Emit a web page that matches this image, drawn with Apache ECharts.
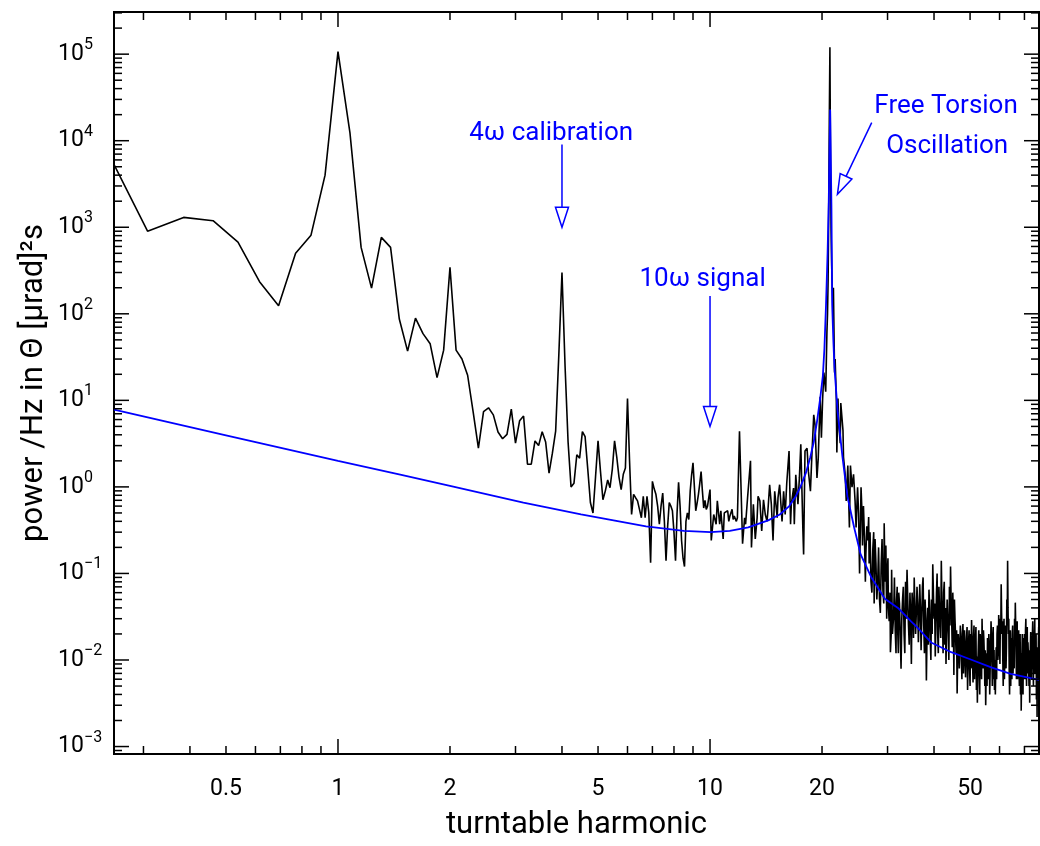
<!DOCTYPE html>
<html>
<head>
<meta charset="utf-8">
<script src="https://cdn.jsdelivr.net/npm/echarts@6/dist/echarts.min.js"></script>
<style>
  html, body { margin: 0; padding: 0; background: #fff; }
  #chart { width: 1040px; height: 846px; }
</style>
</head>
<body>
<div id="chart"></div>
<script>
// measured spectrum, one bin = 1/13 turntable harmonic
const lowFirstBin = 3
const lowPower = [
  10500, 900, 1300, 1190, 675, 235, 124, 500, 810, 4000,
  107000, 12300, 585, 198, 764, 585, 87, 37, 89, 59,
  45, 18.3, 38, 345, 38, 30, 19.5, 7.4, 2.8, 7.4,
  8.2, 6.8, 4.3, 3.6, 4.05, 7.9, 3.2, 5.8, 6.6, 1.83,
  1.83, 3.4, 3.0, 4.35, 3.3, 1.44, 2.45, 4.4, 34, 300,
  25, 3.3, 1.0, 1.1, 2.35, 2.15, 4.35, 3.8, 1.6, 0.66,
  0.5, 1.3, 3.4, 1.5, 0.71, 0.9, 1.2, 0.98, 1.6, 3.4,
  2.2, 1.3, 0.93, 1.4, 1.65, 10.5, 2.0, 0.48, 0.82, 0.75,
  0.69, 0.55, 0.44, 0.78, 0.44, 0.78, 0.5, 0.133, 1.16, 0.95,
  0.82, 0.6, 0.37, 0.6, 0.85, 0.4, 0.14, 0.35, 0.66, 0.6,
  0.53, 0.3, 0.14, 0.5, 1.13, 0.6, 0.24, 0.15, 0.12, 0.4,
  0.5, 0.42, 0.9, 1.38, 1.9, 1.0, 0.53, 0.65, 0.82, 1.1,
  1.5, 0.9, 0.57, 0.7, 0.55, 0.6, 0.75, 0.93
]
const midBins = [
  131, 133, 135, 136, 138, 139, 141, 142, 143, 145, 146, 147, 149, 150, 151, 153, 154, 156, 159, 161,
  162, 164, 167, 168, 170, 172, 174, 175, 177, 179, 181, 183, 185, 186, 188, 190, 192, 194, 197, 198,
  200, 203, 205, 207, 209, 212, 214, 215, 218, 219, 221, 224, 226, 228, 231, 232, 234, 237, 239, 242,
  244, 247, 249, 252, 254, 257, 259, 261, 263, 266, 268, 269, 270, 271, 272, 273, 274, 275, 276, 277,
  278, 279, 280, 281, 282, 284, 285, 287, 288, 291, 292, 296, 297, 300, 302, 305, 308, 310, 313, 316,
  319, 321, 324, 326, 328, 330, 331, 333, 334, 336, 338, 340, 341, 343, 345, 347, 348, 350, 352, 354,
  356, 358, 359, 361, 363, 365, 367, 369, 371, 373, 375, 377, 379, 381, 382, 384, 386, 388, 389, 391,
  392, 394, 396, 397, 399, 400, 402, 405, 407, 409, 411, 412, 414, 415, 417, 418, 420
]
const midPower = [
  0.24, 0.48, 0.37, 0.69, 0.37, 0.53, 0.25, 0.5, 0.48, 0.53, 0.4, 0.46, 0.55, 0.42, 0.46, 0.4, 0.44, 4.4, 0.22, 0.44,
  0.37, 0.75, 2.0, 0.2, 0.63, 0.25, 0.44, 0.78, 0.69, 0.31, 0.71, 0.48, 0.4, 0.53, 1.06, 0.63, 0.24, 0.89, 0.44, 0.75,
  1.06, 0.4, 0.89, 0.48, 1.1, 2.6, 0.37, 0.63, 0.97, 0.37, 1.38, 0.63, 1.27, 3.1, 0.31, 0.166, 2.6, 2.8, 1.5, 0.89,
  2.15, 6.8, 5.2, 1.27, 2.15, 11, 3.7, 10.5, 21, 12.6, 61, 100, 250, 1500, 18000, 120000, 6000, 900, 360, 200,
  125, 200, 60, 21, 30, 10.5, 2.5, 10.5, 5.8, 3.2, 9.3, 4.5, 2.2, 1.4, 0.69, 1.77, 0.34, 1.77, 0.99, 1.4,
  0.69, 0.34, 0.99, 0.5, 0.1, 0.45, 0.99, 0.5, 0.21, 0.6, 0.27, 0.08, 0.166, 0.35, 0.24, 0.45, 0.13, 0.3, 0.081, 0.06,
  0.19, 0.3, 0.045, 0.25, 0.13, 0.05, 0.081, 0.2, 0.051, 0.035, 0.13, 0.25, 0.064, 0.045, 0.38, 0.08, 0.21, 0.03, 0.092, 0.15,
  0.041, 0.028, 0.06, 0.0123, 0.02, 0.11, 0.02, 0.032, 0.09, 0.022, 0.012, 0.045, 0.07, 0.025, 0.012, 0.06, 0.045
]
const highFirstBin = 424
const highBinStep = 2
const highPower = [
  0.0079, 0.03, 0.05, 0.07, 0.02, 0.012, 0.08, 0.03, 0.11, 0.05,
  0.025, 0.015, 0.06, 0.035, 0.009, 0.06, 0.04, 0.018, 0.09, 0.04,
  0.02, 0.035, 0.07, 0.045, 0.016, 0.03, 0.075, 0.04, 0.013, 0.03,
  0.07, 0.09, 0.025, 0.012, 0.05, 0.03, 0.0058, 0.02, 0.04, 0.015,
  0.065, 0.04, 0.018, 0.01, 0.05, 0.02, 0.128, 0.06, 0.03, 0.045,
  0.011, 0.025, 0.06, 0.1, 0.02, 0.012, 0.07, 0.04, 0.025, 0.018,
  0.14, 0.05, 0.03, 0.012, 0.06, 0.08, 0.015, 0.04, 0.009, 0.022,
  0.05, 0.03, 0.02, 0.01, 0.07, 0.025, 0.12, 0.05, 0.03, 0.014,
  0.06, 0.035, 0.0067, 0.05, 0.03, 0.02, 0.012, 0.022, 0.0041, 0.012,
  0.02, 0.015, 0.008, 0.014, 0.025, 0.018, 0.01, 0.006, 0.02, 0.026,
  0.007, 0.011, 0.022, 0.014, 0.0063, 0.012, 0.018, 0.024, 0.0045, 0.009,
  0.016, 0.022, 0.008, 0.005, 0.02, 0.008, 0.029, 0.017, 0.01, 0.0055,
  0.018, 0.025, 0.006, 0.01, 0.016, 0.024, 0.0045, 0.011, 0.0032, 0.009,
  0.014, 0.022, 0.007, 0.004, 0.02, 0.016, 0.01, 0.006, 0.03, 0.015,
  0.008, 0.022, 0.017, 0.011, 0.005, 0.013, 0.003, 0.007, 0.012, 0.005,
  0.018, 0.011, 0.006, 0.02, 0.015, 0.004, 0.008, 0.013, 0.028, 0.02,
  0.01, 0.005, 0.016, 0.024, 0.006, 0.013, 0.0045, 0.01, 0.004, 0.008,
  0.014, 0.006, 0.02, 0.025, 0.01, 0.012, 0.033, 0.02, 0.015, 0.009,
  0.03, 0.02, 0.075, 0.035, 0.02, 0.028, 0.01, 0.005, 0.02, 0.03,
  0.006, 0.011, 0.018, 0.025, 0.008, 0.014, 0.05, 0.025, 0.14, 0.04,
  0.02, 0.03, 0.008, 0.004, 0.015, 0.022, 0.005, 0.018, 0.012, 0.006,
  0.02, 0.025, 0.007, 0.011, 0.015, 0.008, 0.03, 0.015, 0.046, 0.025,
  0.012, 0.006, 0.02, 0.028, 0.006, 0.009, 0.014, 0.022, 0.008, 0.005,
  0.015, 0.02, 0.004, 0.012, 0.0026, 0.007, 0.012, 0.02, 0.008, 0.004,
  0.018, 0.011, 0.006, 0.02, 0.014, 0.006, 0.022, 0.03, 0.01, 0.005,
  0.016, 0.024, 0.007, 0.016, 0.012, 0.009, 0.005, 0.013, 0.0032, 0.008,
  0.014, 0.021, 0.01, 0.006, 0.018, 0.008, 0.02, 0.028, 0.009, 0.005,
  0.017, 0.008, 0.02, 0.03, 0.007, 0.018, 0.012, 0.02, 0.0035, 0.009,
  0.0022, 0.014, 0.01, 0.004, 0.016, 0.024, 0.006, 0.003, 0.012
]

// fitted noise model (blue)
const modelHarmonic = [
  0.25, 0.5, 1.0, 1.48, 2.0, 3.15, 4.5, 6.73, 8.5, 10.04, 11.3, 12.67, 14.33, 15.4, 16.33, 17.0,
  17.5, 18.1, 18.6, 19.0, 19.4, 19.8, 20.1, 20.3, 20.5, 20.7, 20.85, 20.95, 21.03, 21.1, 21.2,
  21.3, 21.45, 21.6, 22.04, 22.7, 23.4, 24.4, 25.4, 27.1, 29.5, 32.0, 34.7, 36.0, 39.4, 44.5,
  50.0, 57.0, 64.3, 76.6
]
const modelPower = [
  7.8, 3.95, 2.0, 1.38, 1.03, 0.66, 0.48, 0.35, 0.31, 0.3, 0.31, 0.34, 0.41, 0.48, 0.6, 0.78,
  1.0, 1.45, 2.2, 3.3, 5.8, 11, 19, 40, 126, 500, 2000, 8000, 23000, 8000, 1700,
  126, 50, 24, 7.2, 2.2, 0.78, 0.34, 0.166, 0.091, 0.051, 0.04, 0.028, 0.024, 0.0158, 0.0123,
  0.0102, 0.0082, 0.0069, 0.0059
]

// axis ticks
const xTickValues = [0.3, 0.4, 0.5, 0.6, 0.7, 0.8, 0.9, 1, 2, 3, 4, 5, 6, 7, 8, 9, 10, 20, 30, 40, 50, 60, 70]
const xTickLabels = [0.5, 1, 2, 5, 10, 20, 50]
const yDecades = [-4, -3, -2, -1, 0, 1, 2, 3, 4, 5]
const yMinorSteps = [2, 3, 4, 5, 6, 7, 8, 9]

// annotations
const noteText = ['4ω calibration', '10ω signal', 'Free Torsion', 'Oscillation']
const noteHarmonic = [3.74, 9.55, 43.1, 43.4]
const notePower = [12100, 246, 24800, 8570]
const arrowStart = [[4, 9040], [10, 161], [27.2, 16200]]
const arrowEnd = [[4, 1000], [10, 5.0], [22.0, 2400]]

const xMin = 0.25, xMax = 76.6
const yMin = 0.00082, yMax = 307000
const FONT = 'Roboto, "DejaVu Sans", sans-serif'
const BLUE = '#0000ff'

let spectrum = []
lowPower.forEach((p, i) => spectrum.push([(lowFirstBin + i) / 13, p]))
midBins.forEach((b, i) => spectrum.push([b / 13, midPower[i]]))
highPower.forEach((p, i) => spectrum.push([(highFirstBin + i * highBinStep) / 13, p]))

let model = modelHarmonic.map((h, i) => [h, modelPower[i]])

let yTickValues = []
yDecades.forEach(d => {
  let base = Math.pow(10, d)
  if (base >= yMin && base <= yMax) yTickValues.push(base)
  yMinorSteps.forEach(m => {
    let v = m * base
    if (v >= yMin && v <= yMax) yTickValues.push(v)
  })
})

function isDecade(v) {
  let l = Math.log10(v)
  return Math.abs(l - Math.round(l)) < 1e-6
}

function renderXTick(params, api) {
  const v = api.value(0)
  const x = api.coord([v, 1])[0]
  const cs = params.coordSys
  const top = cs.y, bottom = cs.y + cs.height
  const len = isDecade(v) ? 15 : 8
  const ls = { stroke: '#000', lineWidth: 1.5 }
  let children = [
    { type: 'line', shape: { x1: x, y1: bottom, x2: x, y2: bottom - len }, style: ls },
    { type: 'line', shape: { x1: x, y1: top, x2: x, y2: top + len }, style: ls }
  ]
  const lbl = xTickLabels.find(t => Math.abs(t - v) < 1e-9)
  if (lbl !== undefined) {
    children.push({
      type: 'text',
      style: { text: String(lbl), x: x, y: bottom + 35, align: 'center', verticalAlign: 'middle',
        font: '23px ' + FONT, fill: '#000' }
    })
  }
  return { type: 'group', children: children }
}

function renderYTick(params, api) {
  const v = api.value(1)
  const y = api.coord([1, v])[1]
  const cs = params.coordSys
  const left = cs.x, right = cs.x + cs.width
  const major = isDecade(v)
  const len = major ? 15 : 8
  const ls = { stroke: '#000', lineWidth: 1.5 }
  let children = [
    { type: 'line', shape: { x1: left, y1: y, x2: left + len, y2: y }, style: ls },
    { type: 'line', shape: { x1: right, y1: y, x2: right - len, y2: y }, style: ls }
  ]
  if (major) {
    const d = Math.round(Math.log10(v))
    const exp = d < 0 ? '\u2212' + (-d) : String(d)
    children.push({
      type: 'text',
      style: { text: '10', x: left - 56, y: y, align: 'left', verticalAlign: 'middle',
        font: '23px ' + FONT, fill: '#000' }
    })
    children.push({
      type: 'text',
      style: { text: exp, x: left - 30, y: y - 9, align: 'left', verticalAlign: 'middle',
        font: '16px ' + FONT, fill: '#000' }
    })
  }
  return { type: 'group', children: children }
}

function renderArrow(params, api) {
  const p0 = api.coord([api.value(0), api.value(1)])
  const p1 = api.coord([api.value(2), api.value(3)])
  const dx = p1[0] - p0[0], dy = p1[1] - p0[1]
  const len = Math.sqrt(dx * dx + dy * dy)
  const ux = dx / len, uy = dy / len
  const head = 20, half = 6.5
  const bx = p1[0] - ux * head, by = p1[1] - uy * head
  const style = { stroke: BLUE, lineWidth: 1.5, fill: null }
  return {
    type: 'group',
    children: [
      { type: 'line', shape: { x1: p0[0], y1: p0[1], x2: bx, y2: by }, style: style },
      { type: 'polygon', shape: { points: [[p1[0], p1[1]], [bx - uy * half, by + ux * half], [bx + uy * half, by - ux * half]] },
        style: { stroke: BLUE, lineWidth: 1.5, fill: '#fff' } }
    ]
  }
}

function renderNote(params, api) {
  const p = api.coord([api.value(0), api.value(1)])
  return {
    type: 'text',
    style: { text: noteText[params.dataIndex], x: p[0], y: p[1], align: 'center', verticalAlign: 'middle',
      font: '26px ' + FONT, fill: BLUE }
  }
}

const chart = echarts.init(document.getElementById('chart'), null, { renderer: 'canvas' })

chart.setOption({
  animation: false,
  backgroundColor: '#fff',
  grid: {
    left: 114, right: 1, top: 12, bottom: 89,
    show: true, borderColor: '#000', borderWidth: 2, backgroundColor: 'transparent'
  },
  xAxis: {
    type: 'log', logBase: 10, min: xMin, max: xMax,
    axisLine: { show: false }, axisTick: { show: false }, axisLabel: { show: false }, splitLine: { show: false },
    name: 'turntable harmonic', nameLocation: 'middle', nameGap: 56,
    nameTextStyle: { fontSize: 31, fontFamily: FONT, color: '#000' }
  },
  yAxis: {
    type: 'log', logBase: 10, min: yMin, max: yMax,
    axisLine: { show: false }, axisTick: { show: false }, axisLabel: { show: false }, splitLine: { show: false },
    name: 'power /Hz in Θ [μrad]²s', nameLocation: 'middle', nameGap: 64,
    nameTextStyle: { fontSize: 31, fontFamily: FONT, color: '#000' }
  },
  series: [
    {
      name: 'spectrum', type: 'line', data: spectrum, symbol: 'none', z: 2,
      lineStyle: { color: '#000', width: 1.6 }
    },
    {
      name: 'model', type: 'line', data: model, symbol: 'none', z: 3,
      lineStyle: { color: BLUE, width: 1.8 }
    },
    {
      type: 'custom', coordinateSystem: 'cartesian2d', silent: true, z: 5,
      data: xTickValues.map(v => [v, 1]), renderItem: renderXTick
    },
    {
      type: 'custom', coordinateSystem: 'cartesian2d', silent: true, z: 5,
      data: yTickValues.map(v => [1, v]), renderItem: renderYTick
    },
    {
      type: 'custom', coordinateSystem: 'cartesian2d', silent: true, z: 6,
      data: arrowStart.map((s, i) => [s[0], s[1], arrowEnd[i][0], arrowEnd[i][1]]),
      renderItem: renderArrow
    },
    {
      type: 'custom', coordinateSystem: 'cartesian2d', silent: true, z: 6,
      data: noteHarmonic.map((h, i) => [h, notePower[i]]), renderItem: renderNote
    }
  ]
})
</script>
</body>
</html>
